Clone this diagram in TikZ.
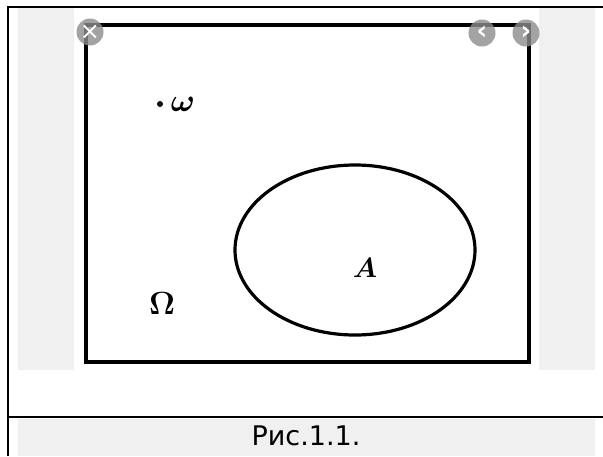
\RequirePackage{fix-cm}
\documentclass[tikz,border=0pt]{standalone}
\usepackage{amsmath,amssymb}
\usepackage{fontspec}
\newfontfamily\captionfont{DejaVu Sans}
\usetikzlibrary{shapes.geometric}

\begin{document}
\begin{tikzpicture}[
      x=1pt, y=-1pt,
      strip/.style={fill=black!6, draw=none},
      frame/.style={draw=black, line width=2pt},
      figline/.style={draw=black, line width=3.2pt},
      navbtn/.style={circle, fill=black!45, fill opacity=0.8, text opacity=1, minimum size=27pt, inner sep=0pt, text=white, font=\captionfont\bfseries\fontsize{26}{26}\selectfont},
      mathlabel/.style={inner sep=0pt, anchor=center}
    ]
    \useasboundingbox (0,0) rectangle (603,456);
    \fill[white] (0,0) rectangle (603,456);

    % Gray strips
    \fill[strip] (18,8) rectangle (74,370);
    \fill[strip] (539,8) rectangle (595,370);
    \fill[strip] (18,419) rectangle (595,456);

    % Frame
    \draw[frame] (8,456) -- (8,7) -- (603,7);
    \draw[frame] (8,417) -- (603,417);

    % Figure
    \draw[figline] (86,25) rectangle (529,362);
    \node[draw, ellipse, line width=3.2pt, minimum width=240pt, minimum height=170pt] (setA) at (355,250) {};

    % Labels
    \node[circle, fill, inner sep=0pt, minimum size=6pt] (point) at (160,104) {};
    \node[mathlabel, font=\fontsize{32}{32}\selectfont] (omega) at (183,104) {$\boldsymbol{\omega}$};
    \node[mathlabel, font=\fontsize{32}{32}\selectfont] (Omega) at (162,304) {$\boldsymbol{\Omega}$};
    \node[mathlabel, font=\fontsize{28}{28}\selectfont] (labelA) at (365,268) {$\boldsymbol{A}$};

    % Buttons
    \node[navbtn, font=\captionfont\fontsize{24}{24}\selectfont] (closebtn) at (90,32) {×};
    \node[navbtn] (prevbtn) at (482,33) {‹};
    \node[navbtn] (nextbtn) at (526,33) {›};

    % Caption
    \node[font=\captionfont\fontsize{27}{27}\selectfont, inner sep=0pt, anchor=base] (caption) at (306,445) {Рис.1.1.};
    \end{tikzpicture}
\end{document}
